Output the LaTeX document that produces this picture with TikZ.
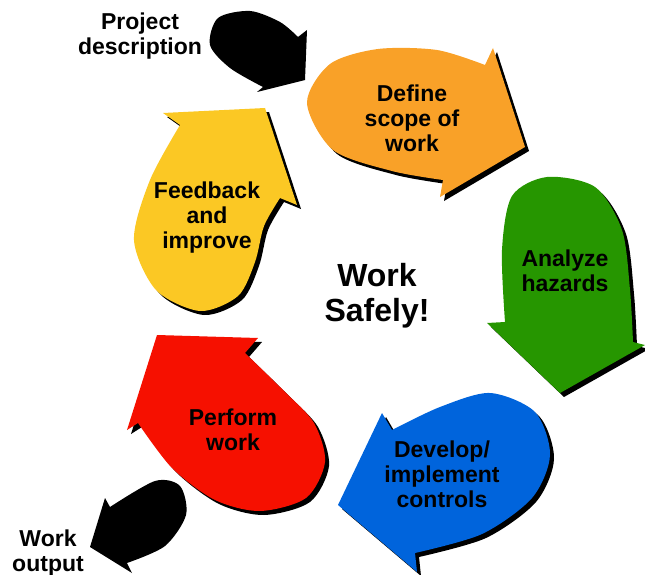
\documentclass[tikz,border=0pt]{standalone}
\usepackage{fontspec}
\setmainfont{Liberation Sans}

\definecolor{scopeorange}{RGB}{249,161,40}
\definecolor{hazardgreen}{RGB}{38,150,0}
\definecolor{controlblue}{RGB}{0,100,220}
\definecolor{performred}{RGB}{246,16,0}
\definecolor{feedyellow}{RGB}{251,200,36}

\begin{document}
\begin{tikzpicture}[x=1pt,y=-1pt,
  shadowed/.style={preaction={fill=black,transform canvas={xshift=4pt,yshift=-4pt}}},
  steptext/.style={font=\bfseries\fontsize{23}{25}\selectfont,align=center,inner sep=0pt}]
 \useasboundingbox (0,0) rectangle (645,575);
 % input and output
 \fill[black](298,37)--(307,30)--(305,80)--(257,92)--(263,87)
   -- plot[smooth] coordinates {(263,87) (230,68) (210,45) (218,18) (250,11) (280,22) (298,37)} -- cycle;
 \fill[black](110,507)--(105,498)--(90,547)--(132,573)--(127,563)
   -- plot[smooth] coordinates {(127,563) (165,546) (186,515) (180,486) (155,481) (110,507)} -- cycle;
 % the cycle
 \fill[scopeorange,shadowed](485,65)--(493,48)--(525,147)--(440,197)--(443,180)
   -- plot[smooth] coordinates {(443,180) (392,171) (333,150) (307,103) (330,64) (378,49) (437,50) (485,65)} -- cycle;
 \fill[hazardgreen,shadowed](633,342)--(645,345)--(560,393)--(487,323)--(505,322)
   -- plot[smooth] coordinates {(505,322) (502,250) (512,196) (547,177) (595,187) (622,230) (630,290) (633,342)} -- cycle;
 \fill[controlblue,shadowed](392,430)--(382,413)--(338,505)--(417,572)--(415,553)
   -- plot[smooth] coordinates {(415,553) (482,534) (532,498) (550,455) (535,412) (490,393) (440,407) (392,430)} -- cycle;
 \fill[performred,shadowed](245,353)--(258,338)--(157,335)--(127,430)--(138,423)
   -- plot[smooth] coordinates {(138,423) (172,468) (215,500) (260,511) (306,498) (325,462) (314,423) (284,391) (245,353)} -- cycle;
 \fill[feedyellow,shadowed](280,198)--(297,205)--(265,108)--(163,113)--(180,125)
   -- plot[smooth] coordinates {(180,125) (150,180) (134,240) (156,290) (200,311) (238,296) (255,262) (264,226) (280,198)} -- cycle;
 % texts
 \node[steptext] (project) at (140,36) {Project\\description};
 \node[steptext] (output) at (48,553) {Work\\output};
 \node[steptext] (define) at (412,118) {Define\\scope of\\work};
 \node[steptext] (analyze) at (565,271) {Analyze\\hazards};
 \node[steptext] (develop) at (442,474) {Develop/\\implement\\controls};
 \node[steptext] (perform) at (233,430) {Perform\\work};
 \node[steptext] (feedback) at (207,218) {Feedback\\and\\improve};
 \node[steptext,font=\bfseries\fontsize{32}{35}\selectfont] (safely) at (377,296) {Work\\Safely!};
\end{tikzpicture}
\end{document}
